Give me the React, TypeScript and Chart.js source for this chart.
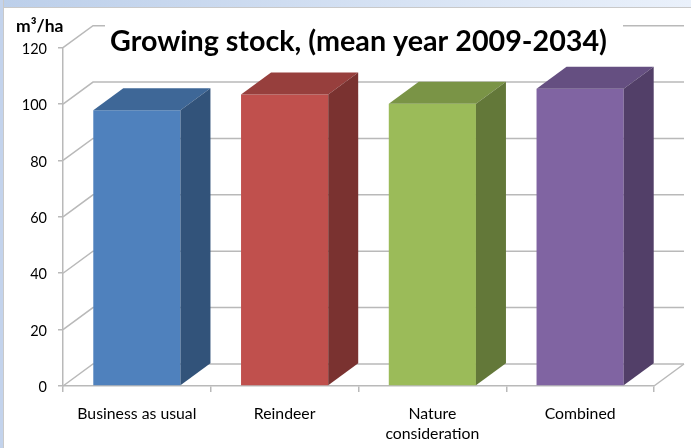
import React, { useEffect, useRef } from "react";
import { Chart, registerables } from "chart.js";

Chart.register(...registerables);

const categories = ["Business as usual", "Reindeer", ["Nature", "consideration"], "Combined"];
const growingStock = [97.8, 103.4, 100.1, 105.4];
const frontColors = ["#4F81BD", "#C0504D", "#9BBB59", "#8064A2"];
const topColors = ["#3E6797", "#973F3D", "#7A9446", "#654F81"];
const sideColors = ["#32537A", "#7A3230", "#637839", "#523F68"];
const chartTitle = "Growing stock, (mean year 2009-2034)";
const unitLabel = "m³/ha";

const DEPTH_X = 30;
const DEPTH_Y = 22;
const GRID = "#b9b9b9";
const FONT = "Lato, Carlito, 'Open Sans', sans-serif";

const walls = {
  id: "walls",
  beforeDraw(chart: any) {
    const { ctx, scales } = chart;
    const y = scales.y;
    const x = scales.x;
    ctx.save();
    ctx.fillStyle = "#ffffff";
    ctx.fillRect(0, 0, chart.width, chart.height);
    ctx.strokeStyle = GRID;
    ctx.lineWidth = 1.5;
    y.ticks.forEach((t: any) => {
      const py = y.getPixelForValue(t.value);
      ctx.beginPath();
      ctx.moveTo(x.left, py);
      ctx.lineTo(x.left + DEPTH_X, py - DEPTH_Y);
      ctx.lineTo(x.right + DEPTH_X, py - DEPTH_Y);
      ctx.stroke();
    });
    const py0 = y.getPixelForValue(0);
    ctx.beginPath();
    ctx.moveTo(x.right, py0);
    ctx.lineTo(x.right + DEPTH_X, py0 - DEPTH_Y);
    ctx.stroke();
    // the title's white background hides the top wall line behind it
    ctx.fillStyle = "#ffffff";
    ctx.fillRect(105, 12, 518, 30);
    ctx.restore();
  },
  afterDraw(chart: any) {
    const { ctx } = chart;
    ctx.save();
    ctx.fillStyle = "#000000";
    ctx.font = `bold 17.5px ${FONT}`;
    ctx.textBaseline = "middle";
    ctx.textAlign = "left";
    ctx.fillText(unitLabel, 16, 26);
    ctx.restore();
  },
};

const boxFaces = {
  id: "boxFaces",
  afterDatasetsDraw(chart: any) {
    const { ctx } = chart;
    const bars = chart.getDatasetMeta(0).data;
    ctx.save();
    bars.forEach((bar: any, i: number) => {
      const half = bar.width / 2;
      const l = bar.x - half;
      const r = bar.x + half;
      const t = bar.y;
      const b = bar.base;
      ctx.fillStyle = topColors[i];
      ctx.beginPath();
      ctx.moveTo(l, t);
      ctx.lineTo(l + DEPTH_X, t - DEPTH_Y);
      ctx.lineTo(r + DEPTH_X, t - DEPTH_Y);
      ctx.lineTo(r, t);
      ctx.closePath();
      ctx.fill();
      ctx.fillStyle = sideColors[i];
      ctx.beginPath();
      ctx.moveTo(r, t);
      ctx.lineTo(r + DEPTH_X, t - DEPTH_Y);
      ctx.lineTo(r + DEPTH_X, b - DEPTH_Y);
      ctx.lineTo(r, b);
      ctx.closePath();
      ctx.fill();
    });
    ctx.restore();
  },
};

export default function App() {
  const ref = useRef<HTMLCanvasElement>(null);
  useEffect(() => {
    const chart = new Chart(ref.current as HTMLCanvasElement, {
      type: "bar",
      data: {
        labels: categories as any,
        datasets: [
          {
            data: growingStock,
            backgroundColor: frontColors,
            barPercentage: 0.59,
            categoryPercentage: 1,
          },
        ],
      },
      options: {
        responsive: false,
        animation: false,
        devicePixelRatio: 1,
        layout: { padding: { left: 0, right: 37, top: 0, bottom: 0 } },
        plugins: {
          legend: { display: false },
          tooltip: { enabled: false },
          title: {
            display: true,
            text: chartTitle,
            fullSize: false,
            color: "#000000",
            font: { family: FONT, size: 28.7, weight: "bold" },
            padding: { top: 24.5, bottom: 47.7 - 24.5 - 34.44 },
          },
        },
        scales: {
          x: {
            afterFit: (s: any) => {
              s.height = 62;
            },
            grid: { drawOnChartArea: false, tickLength: 6, color: GRID, lineWidth: 1.5 },
            border: { color: GRID, width: 1.5 },
            ticks: {
              color: "#000000",
              maxRotation: 0,
              autoSkip: false,
              padding: 11.5,
              font: { family: FONT, size: 15.8, lineHeight: 1.27 },
            },
          },
          y: {
            min: 0,
            max: 120,
            afterFit: (s: any) => {
              s.width = 63;
              const original = s.constructor.prototype.getLabelItems;
              s.getLabelItems = (area: any) =>
                original.call(s, area).map((item: any) => ({
                  ...item,
                  options: {
                    ...item.options,
                    translation: [item.options.translation[0], item.options.translation[1] + 1.5],
                  },
                }));
            },
            grid: { drawOnChartArea: false, tickLength: 5, color: GRID, lineWidth: 1.5 },
            border: { color: GRID, width: 1.5 },
            ticks: {
              stepSize: 20,
              color: "#000000",
              padding: 11,
              font: { family: FONT, size: 14.5 },
            },
          },
        },
      },
      plugins: [walls, boxFaces],
    } as any);
    return () => chart.destroy();
  }, []);

  return (
    <div style={{ position: "fixed", left: 0, top: 0, width: 691, height: 448, background: "#fff", overflow: "hidden" }}>
      <canvas ref={ref} width={691} height={448} style={{ display: "block", position: "absolute", left: 0, top: 0 }} />
      <div
        style={{
          position: "absolute",
          left: 0,
          top: 0,
          width: 691,
          height: 7,
          background: "linear-gradient(to right, #bccfea, #eaf1fb)",
          borderBottom: "1px solid #c9c9c9",
        }}
      />
      <div
        style={{
          position: "absolute",
          left: 0,
          top: 0,
          width: 3,
          height: 448,
          background: "#c3d3ec",
          borderRight: "1px solid #c9c9c9",
        }}
      />
    </div>
  );
}
